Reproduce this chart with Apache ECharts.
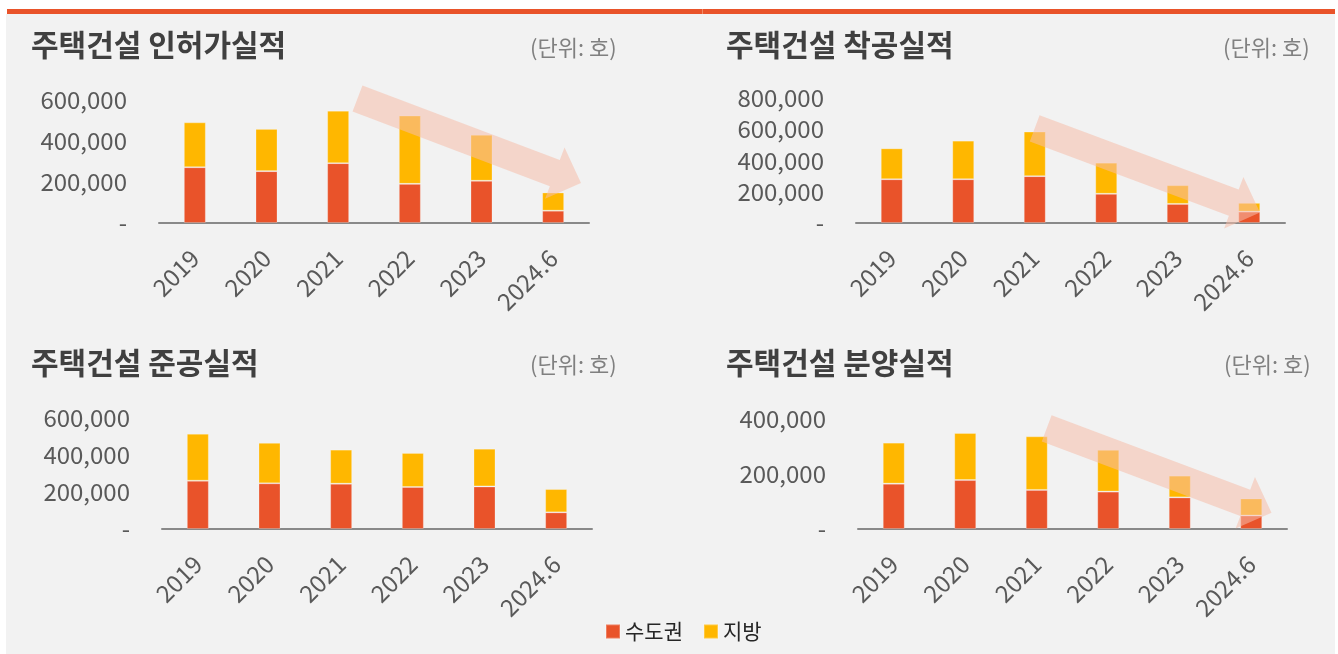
<!DOCTYPE html>
<html>
<head>
<meta charset="utf-8">
<script src="https://cdn.jsdelivr.net/npm/echarts@6/dist/echarts.min.js"></script>
<style>
  html, body { margin: 0; padding: 0; background: #fff; }
  #chart { width: 1338px; height: 654px; }
</style>
</head>
<body>
<div id="chart"></div>
<script>
const years = ['2019', '2020', '2021', '2022', '2023', '2024.6'];

// 인허가
const permitMetro = [272000, 253000, 292000, 191000, 206000, 60000];
const permitLocal = [219000, 206000, 256000, 333000, 224000, 89000];
// 착공
const startMetro = [280000, 280000, 300000, 187000, 122000, 73000];
const startLocal = [198000, 247000, 285000, 199000, 120000, 56000];
// 준공
const doneMetro = [261000, 247000, 245000, 227000, 230000, 90000];
const doneLocal = [254000, 219000, 184000, 184000, 204000, 126000];
// 분양
const saleMetro = [165000, 178000, 142000, 136000, 115000, 49000];
const saleLocal = [149000, 171000, 195000, 152000, 79000, 62000];

const titles = ['주택건설 인허가실적', '주택건설 착공실적', '주택건설 준공실적', '주택건설 분양실적'];
const unitText = '(단위: 호)';
const yMax = [600000, 800000, 600000, 400000];

const RED = '#E9532A';
const YELLOW = '#FFB700';
const FONT = '"Noto Sans CJK KR", "Noto Sans", sans-serif';

const panels = [
  { grid: { left: 159, top: 100, width: 430, height: 123 }, metro: permitMetro, local: permitLocal,
    title: [31, 45], unit: [530, 48] },
  { grid: { left: 856, top: 98, width: 429, height: 125 }, metro: startMetro, local: startLocal,
    title: [726, 45], unit: [1223, 48] },
  { grid: { left: 162, top: 418, width: 430, height: 111 }, metro: doneMetro, local: doneLocal,
    title: [31, 363], unit: [530, 365] },
  { grid: { left: 858, top: 419, width: 429, height: 110 }, metro: saleMetro, local: saleLocal,
    title: [726, 363], unit: [1224, 365] },
];

// 추세 화살표 (꼬리 중심 → 화살촉 끝)
const arrows = [
  { tail: [357.5, 98.5], tip: [581, 183] },
  { tail: [1034.7, 128.3], tip: [1260, 212.5] },
  { tail: [1046.7, 428.3], tip: [1271.5, 512.7] },
];

function arrowPoints(a) {
  const shaftW = 28, headW = 55, headL = 28;
  const dx = a.tip[0] - a.tail[0], dy = a.tip[1] - a.tail[1];
  const len = Math.sqrt(dx * dx + dy * dy);
  const ux = dx / len, uy = dy / len;
  const nx = -uy, ny = ux;
  const bx = a.tip[0] - ux * headL, by = a.tip[1] - uy * headL;
  const p = (x, y, k) => [x + nx * k, y + ny * k];
  return [
    p(a.tail[0], a.tail[1], -shaftW / 2),
    p(bx, by, -shaftW / 2),
    p(bx, by, -headW / 2),
    a.tip,
    p(bx, by, headW / 2),
    p(bx, by, shaftW / 2),
    p(a.tail[0], a.tail[1], shaftW / 2),
  ];
}

const chart = echarts.init(document.getElementById('chart'));

const graphic = [
  { type: 'rect', z: -10, shape: { x: 6, y: 14, width: 1329, height: 640 }, style: { fill: '#f2f2f2' } },
  { type: 'rect', z: -9, shape: { x: 7, y: 9, width: 1328, height: 5 }, style: { fill: RED } },
  { type: 'rect', z: -8, shape: { x: 702, y: 9, width: 1, height: 5 }, style: { fill: '#F28A64' } },
];
panels.forEach((p, i) => {
  graphic.push({
    type: 'text', x: p.title[0], y: p.title[1],
    style: { text: titles[i], font: 'bold 30px ' + FONT, fill: '#404040', verticalAlign: 'middle' }
  });
  graphic.push({
    type: 'text', x: p.unit[0], y: p.unit[1],
    style: { text: unitText, font: '22px ' + FONT, fill: '#808080', verticalAlign: 'middle' }
  });
});
arrows.forEach(a => {
  graphic.push({
    type: 'polygon', z: 100,
    shape: { points: arrowPoints(a) },
    style: { fill: 'rgba(246,190,170,0.55)' }
  });
});

const barStyle = (color) => ({ color: color, borderColor: 'rgba(255,255,255,0.25)', borderWidth: 1 });

const option = {
  animation: false,
  backgroundColor: '#fff',
  textStyle: { fontFamily: FONT },
  graphic: graphic,
  legend: {
    left: 600, top: 616,
    icon: 'rect', itemWidth: 14, itemHeight: 14, itemGap: 20,
    textStyle: { fontSize: 21, color: '#262626', fontFamily: FONT },
    data: ['수도권', '지방']
  },
  grid: panels.map(p => Object.assign({ containLabel: false, outerBoundsMode: 'none' }, p.grid)),
  xAxis: panels.map((p, i) => ({
    type: 'category', gridIndex: i, data: years,
    axisLine: { lineStyle: { color: '#898989', width: 2 } },
    axisTick: { show: false },
    axisLabel: { rotate: 45, margin: 31, fontSize: 24, color: '#595959', fontFamily: FONT, interval: 0 }
  })),
  yAxis: panels.map((p, i) => ({
    type: 'value', gridIndex: i, min: 0, max: yMax[i], interval: 200000,
    splitLine: { show: false }, axisLine: { show: false }, axisTick: { show: false },
    axisLabel: {
      margin: 32, fontSize: 24, color: '#595959', fontFamily: FONT,
      formatter: v => v === 0 ? '-' : v.toLocaleString('en-US')
    }
  })),
  series: panels.flatMap((p, i) => [
    { name: '수도권', type: 'bar', stack: 's' + i, xAxisIndex: i, yAxisIndex: i, barWidth: 22,
      data: p.metro, itemStyle: barStyle(RED) },
    { name: '지방', type: 'bar', stack: 's' + i, xAxisIndex: i, yAxisIndex: i, barWidth: 22,
      data: p.local, itemStyle: barStyle(YELLOW) },
  ])
};

chart.setOption(option);
</script>
</body>
</html>
